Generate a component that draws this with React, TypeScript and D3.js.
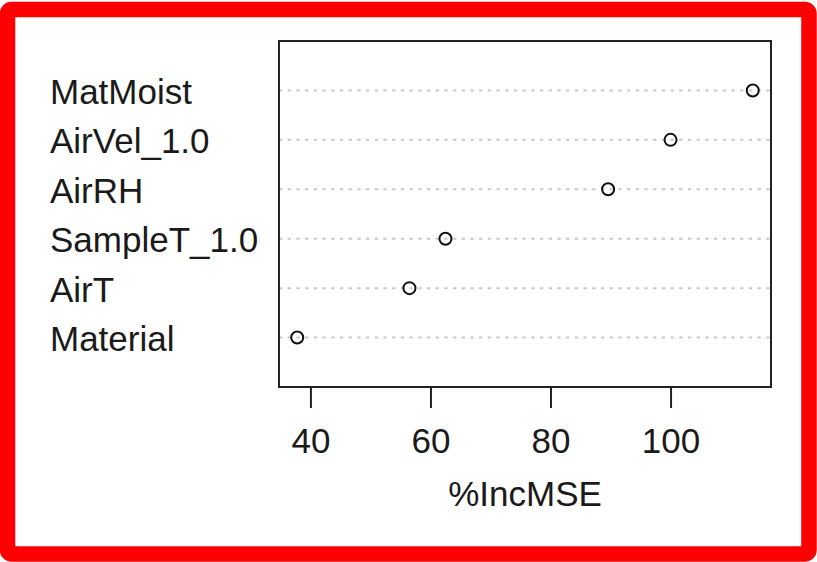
import React, { useEffect, useRef } from "react";
import * as d3 from "d3";

// variables, top to bottom as drawn
const labels = ["MatMoist", "AirVel_1.0", "AirRH", "SampleT_1.0", "AirT", "Material"];
const incMSE = [113.7, 100.0, 89.6, 62.5, 56.5, 37.8];
const xTicks = [40, 60, 80, 100];

const W = 817;
const H = 562;
const box = { left: 279, right: 771, top: 41, bottom: 387 };
const FONT = "'Liberation Sans', Arial, sans-serif";
const FS = 35;

export default function App() {
  const ref = useRef<SVGSVGElement | null>(null);

  useEffect(() => {
    const svg = d3.select(ref.current);
    svg.selectAll("*").remove();

    // red frame around the picture
    svg.append("rect")
      .attr("x", 7.5)
      .attr("y", 9.5)
      .attr("width", 801.5)
      .attr("height", 544.5)
      .attr("rx", 4)
      .attr("fill", "white")
      .attr("stroke", "#ff0000")
      .attr("stroke-width", 15.5);

    // R dotchart: xlim = range +/- 4%
    const [lo, hi] = d3.extent(incMSE) as [number, number];
    const pad = (hi - lo) * 0.04;
    const x = d3.scaleLinear().domain([lo - pad, hi + pad]).range([box.left, box.right]);
    const y = d3.scaleLinear().domain([0, labels.length + 1]).range([box.bottom, box.top]);

    const rows = labels.map((name, i) => ({ name, value: incMSE[i], pos: labels.length - i }));

    svg.append("g")
      .selectAll("line")
      .data(rows)
      .join("line")
      .attr("x1", box.left)
      .attr("x2", box.right)
      .attr("y1", d => y(d.pos))
      .attr("y2", d => y(d.pos))
      .attr("stroke", "#c8c8c8")
      .attr("stroke-width", 2)
      .attr("stroke-dasharray", "3.3 5.4");

    svg.append("g")
      .selectAll("text")
      .data(rows)
      .join("text")
      .attr("x", 50)
      .attr("y", d => y(d.pos) + 13.5)
      .attr("font-family", FONT)
      .attr("font-size", FS)
      .attr("fill", "#1a1a1a")
      .text(d => d.name);

    svg.append("g")
      .selectAll("circle")
      .data(rows)
      .join("circle")
      .attr("cx", d => x(d.value))
      .attr("cy", d => y(d.pos))
      .attr("r", 6)
      .attr("fill", "none")
      .attr("stroke", "#111")
      .attr("stroke-width", 2);

    svg.append("rect")
      .attr("x", box.left)
      .attr("y", box.top)
      .attr("width", box.right - box.left)
      .attr("height", box.bottom - box.top)
      .attr("fill", "none")
      .attr("stroke", "#222")
      .attr("stroke-width", 2);

    const xAxis = svg.append("g")
      .attr("transform", `translate(0, ${box.bottom})`)
      .call(d3.axisBottom(x).tickValues(xTicks).tickSize(21).tickPadding(20).tickFormat(d3.format("d")));
    xAxis.select(".domain")
      .attr("d", `M${x(xTicks[0])},0H${x(xTicks[xTicks.length - 1])}`)
      .attr("stroke", "#222")
      .attr("stroke-width", 2);
    xAxis.selectAll(".tick line").attr("stroke", "#222").attr("stroke-width", 2);
    xAxis.selectAll(".tick text")
      .attr("font-family", FONT)
      .attr("font-size", FS)
      .attr("fill", "#1a1a1a");

    svg.append("text")
      .attr("x", (box.left + box.right) / 2)
      .attr("y", 506)
      .attr("text-anchor", "middle")
      .attr("font-family", FONT)
      .attr("font-size", FS)
      .attr("fill", "#1a1a1a")
      .text("%IncMSE");
  }, []);

  return (
    <div style={{ position: "absolute", left: 0, top: 0 }}>
      <svg ref={ref} width={W} height={H}></svg>
    </div>
  );
}
